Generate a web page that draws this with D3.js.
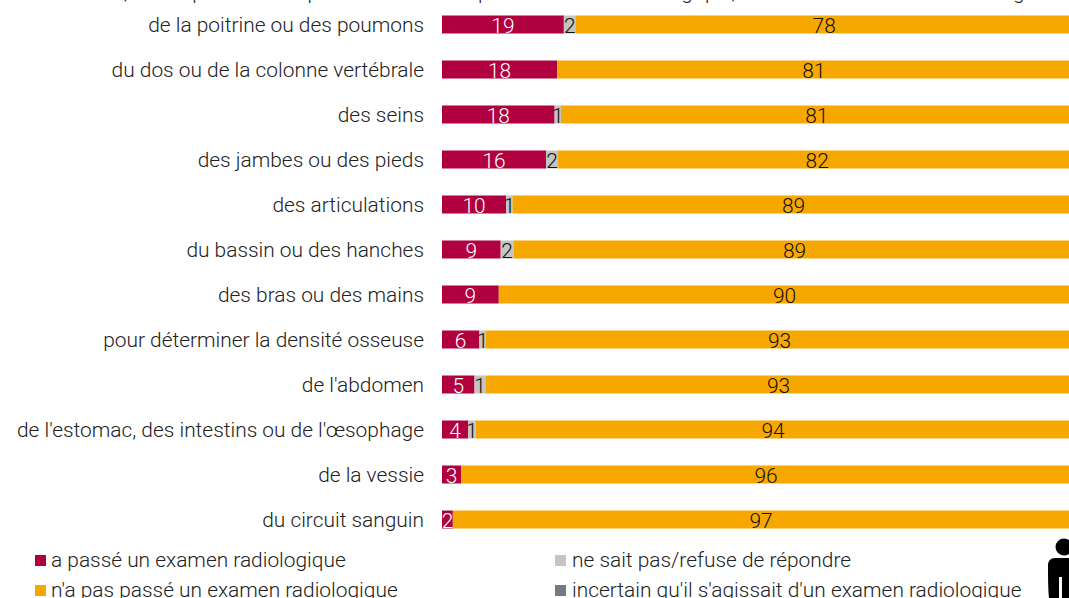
<!DOCTYPE html>
<html><head><meta charset="utf-8">
<script src="https://cdn.jsdelivr.net/npm/d3@7"></script>
<style>html,body{margin:0;padding:0;background:#fff;overflow:hidden}svg{display:block}
text{font-family:"Roboto","Liberation Sans",sans-serif;font-weight:300}</style></head><body>
<svg id="c" width="1069" height="598"></svg>
<script>
const categories=["de la poitrine ou des poumons","du dos ou de la colonne vertébrale","des seins","des jambes ou des pieds","des articulations","du bassin ou des hanches","des bras ou des mains","pour déterminer la densité osseuse","de l'abdomen","de l'estomac, des intestins ou de l'œsophage","de la vessie","du circuit sanguin"];
const passed=[19.1,18.05,17.65,16.3,10.05,9.2,8.9,5.85,5.1,4.1,3,1.7];
const unsure=[1.9,0,1,1.9,1,2,0,1,1.7,1.15,0,0];
const notPassed=[77.8,80.5,80.2,81.2,88.1,88.1,89.6,92.1,91.9,93.3,95.6,96.6];
const passedLabels=["19","18","18","16","10","9","9","6","5","4","3","2"];
const unsureLabels=["2","","1","2","1","2","","1","1","1","",""];
const notPassedLabels=["78","81","81","82","89","89","90","93","93","94","96","97"];
const legendItems=[["a passé un examen radiologique","#b0003f",35,555,51,567],["n'a pas passé un examen radiologique","#f7a800",35,585,51,597],["ne sait pas/refuse de répondre","#c4c4c2",555,555,572,567],["incertain qu'il s'agissait d'un examen radiologique","#717d85",555,585,572,597]];
const titleText="Veuillez indiquer (oui/non), au cours des dernières années, si une partie du corps a été examinée par un examen radiologique, à savoir un examen de radiologie";
const svg=d3.select("#c");
const x=d3.scaleLinear().domain([0,100]).range([442,1080]);
const y=d3.scaleBand().domain(categories).range([2,542]).paddingInner(0.6).paddingOuter(0.3);
const FS=20.9;
svg.append("text").attr("x",1040).attr("y",-1).attr("text-anchor","end").attr("font-size",FS).attr("fill","#222").text(titleText);
categories.forEach((c,i)=>{
  const top=y(c),h=y.bandwidth(),cy=top+h/2;
  const a=passed[i],b=unsure[i],t=a+b;
  const end=x(t)+x(notPassed[i])-x(0);
  svg.append("rect").attr("x",x(0)).attr("y",top).attr("width",x(a)-x(0)).attr("height",h).attr("fill","#b0003f");
  if(b>0)svg.append("rect").attr("x",x(a)).attr("y",top).attr("width",x(t)-x(a)).attr("height",h).attr("fill","#c4c4c2");
  svg.append("rect").attr("x",x(t)).attr("y",top).attr("width",end-x(t)).attr("height",h).attr("fill","#f7a800");
  svg.append("text").attr("x",424).attr("y",cy+7).attr("text-anchor","end").attr("font-size",FS).attr("fill","#222").text(c);
  svg.append("text").attr("x",(x(0)+x(a))/2).attr("y",cy+8).attr("text-anchor","middle").attr("font-size",FS).attr("fill","#fff").text(passedLabels[i]);
  if(unsureLabels[i])svg.append("text").attr("x",(x(a)+x(t))/2).attr("y",cy+8).attr("text-anchor","middle").attr("font-size",FS).attr("fill","#111").text(unsureLabels[i]);
  svg.append("text").attr("x",(x(t)+end)/2).attr("y",cy+8).attr("text-anchor","middle").attr("font-size",FS).attr("fill","#111").text(notPassedLabels[i]);
});
legendItems.forEach(([t,col,sx,sy,tx,ty])=>{
  svg.append("rect").attr("x",sx).attr("y",sy).attr("width",11).attr("height",11).attr("fill",col);
  svg.append("text").attr("x",tx).attr("y",ty).attr("font-size",FS).attr("fill","#222").text(t);
});
const icon=svg.append("g").attr("fill","#000");
icon.append("circle").attr("cx",1064).attr("cy",547).attr("r",8.5);
icon.append("path").attr("d","M1055,558H1075V598H1062V577H1059V598H1049Q1048,590 1048,566Q1048,558 1055,558Z");
</script></body></html>
